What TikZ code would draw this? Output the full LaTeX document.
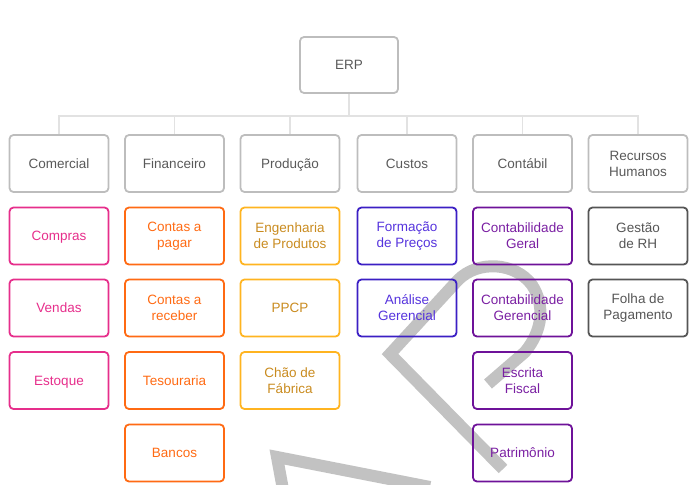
\documentclass[tikz,border=0pt]{standalone}
\usepackage{fontspec}
\setmainfont{Liberation Sans}
\definecolor{boxgrey}{HTML}{BDBDBD}
\definecolor{conngrey}{HTML}{E2E2E2}
\definecolor{txtgrey}{HTML}{595959}
\definecolor{wmgrey}{HTML}{C2C2C2}
\definecolor{cpink}{HTML}{E62E8B}
\definecolor{corange}{HTML}{FF6A13}
\definecolor{camber}{HTML}{FFB420}
\definecolor{camtxt}{HTML}{C98B1F}
\definecolor{cblue}{HTML}{3B1FC4}
\definecolor{cbluetxt}{HTML}{5533DD}
\definecolor{cpurple}{HTML}{6E1299}
\definecolor{cpurtxt}{HTML}{7A1FA2}
\definecolor{cdark}{HTML}{555555}
\tikzset{
  box/.style={draw, line width=1.8pt, rounded corners=4pt, minimum width=99pt, minimum height=57pt,
    inner sep=0pt, align=center, font=\fontsize{13.5}{16}\selectfont},
  one/.style={text height=9.8pt, text depth=0pt},
  topbox/.style={box, draw=boxgrey, text=txtgrey},
  pinkbox/.style={box, draw=cpink, text=cpink},
  orangebox/.style={box, draw=corange, text=corange},
  amberbox/.style={box, draw=camber, text=camtxt},
  bluebox/.style={box, draw=cblue, text=cbluetxt},
  purplebox/.style={box, draw=cpurple, text=cpurtxt},
  darkbox/.style={box, draw=cdark, text=cdark},
  conn/.style={draw=conngrey, line width=1.8pt},
  wmark/.style={draw=wmgrey, line width=12pt, line join=miter, line cap=butt}
}
\begin{document}
\begin{tikzpicture}[x=1pt,y=-1pt]
\useasboundingbox (0,0) rectangle (692,484);
% watermark stroke (behind boxes)
\begin{scope}
\clip (0,0) rectangle (692,484);
\draw[wmark] (503,469) -- (390,354) -- (458,280) .. controls (478,260) and (515,262) .. (532,285)
  .. controls (545,305) and (543,330) .. (525,352) -- (488,384);
\draw[wmark] (284,495) -- (277,457) -- (430,487);
\end{scope}
% root
\node[topbox, one, minimum width=98pt, minimum height=56pt] (erp) at (349,65) {ERP};
% level 2
\node[topbox, one] (com) at (59,163.5) {Comercial};
\node[topbox, one] (fin) at (174.5,163.5) {Financeiro};
\node[topbox, one] (pro) at (290,163.5) {Produção};
\node[topbox, one] (cus) at (407,163.5) {Custos};
\node[topbox, one] (con) at (522.5,163.5) {Contábil};
\node[topbox] (rh) at (638,163.5) {Recursos\\Humanos};
% connectors
\foreach \n in {com,fin,pro,cus,con,rh}
  \draw[conn] (erp.south) -- ++(0,22) -| (\n.north);
% Comercial
\node[pinkbox, one] (compras) at (59,236) {Compras};
\node[pinkbox, one] (vendas) at (59,308) {Vendas};
\node[pinkbox, one] (estoque) at (59,380.5) {Estoque};
% Financeiro
\node[orangebox] (pagar) at (174.5,236) {Contas a\\pagar};
\node[orangebox] (receber) at (174.5,308) {Contas a\\receber};
\node[orangebox, one] (tes) at (174.5,380.5) {Tesouraria};
\node[orangebox, one] (bancos) at (174.5,453) {Bancos};
% Produção
\node[amberbox] (eng) at (290,236) {Engenharia\\de Produtos};
\node[amberbox, one] (ppcp) at (290,308) {PPCP};
\node[amberbox] (chao) at (290,380.5) {Chão de\\Fábrica};
% Custos
\node[bluebox] (form) at (407,236) {Formação\\de Preços};
\node[bluebox] (anal) at (407,308) {Análise\\Gerencial};
% Contábil
\node[purplebox] (cgeral) at (522.5,236) {Contabilidade\\Geral};
\node[purplebox] (cger) at (522.5,308) {Contabilidade\\Gerencial};
\node[purplebox] (escr) at (522.5,380.5) {Escrita\\Fiscal};
\node[purplebox, one] (patr) at (522.5,453) {Patrimônio};
% RH
\node[darkbox] (gest) at (638,236) {Gestão\\de RH};
\node[darkbox] (folha) at (638,308) {Folha de\\Pagamento};
\end{tikzpicture}
\end{document}
